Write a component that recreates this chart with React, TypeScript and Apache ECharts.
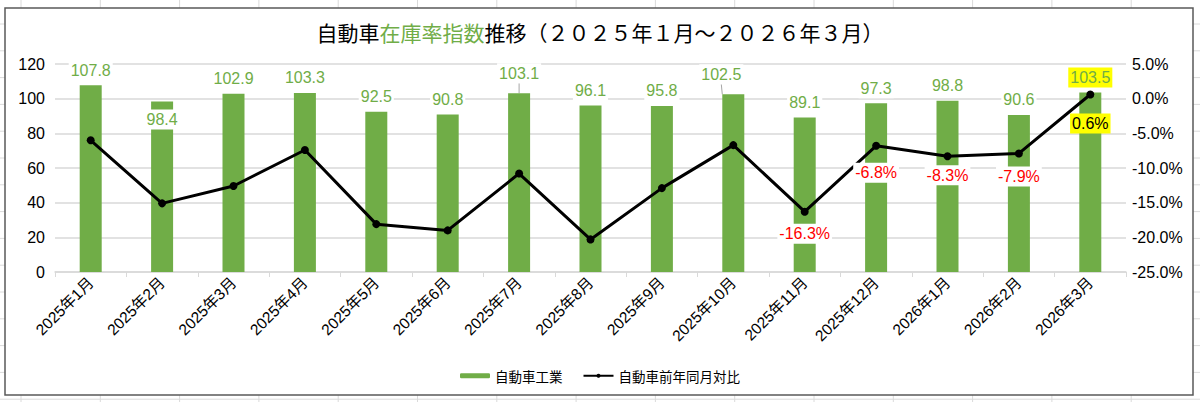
import React, { useEffect, useRef } from "react";
import * as echarts from "echarts";

const categories = [
  "2025年1月", "2025年2月", "2025年3月", "2025年4月", "2025年5月", "2025年6月",
  "2025年7月", "2025年8月", "2025年9月", "2025年10月", "2025年11月", "2025年12月",
  "2026年1月", "2026年2月", "2026年3月",
];
const industryIndex = [107.8, 98.4, 102.9, 103.3, 92.5, 90.8, 103.1, 96.1, 95.8, 102.5, 89.1, 97.3, 98.8, 90.6, 103.5];
const yoyChange = [-6.0, -15.1, -12.6, -7.4, -18.1, -19.0, -10.8, -20.3, -12.9, -6.7, -16.3, -6.8, -8.3, -7.9, 0.6];
const labeledYoy = [10, 11, 12, 13, 14];
const leftMin = 0;
const leftMax = 120;
const leftStep = 20;
const rightMin = -25;
const rightMax = 5;
const rightStep = 5;
const seriesNames = ["自動車工業", "自動車前年同月対比"];

const GREEN = "#70AD47";
const FONT = "'Liberation Sans', Arial, 'Noto Sans CJK JP', sans-serif";
const CJK = "'Noto Sans CJK JP', 'Liberation Sans', sans-serif";

export default function App() {
  const ref = useRef<HTMLDivElement>(null);
  useEffect(() => {
    if (!ref.current) return;
    const chart = echarts.init(ref.current, null, { renderer: "svg" });

    const cellLines: any[] = [];
    for (let k = 0; k < 15; k++) {
      const x = 21 + 79.3 * k;
      cellLines.push({ type: "line", z: -20, shape: { x1: x, y1: 0, x2: x, y2: 402 }, style: { stroke: "#DADADA", lineWidth: 1 } });
    }
    for (let k = 0; k < 15; k++) {
      const y = 24 + 26.8 * k;
      cellLines.push({ type: "line", z: -20, shape: { x1: 0, y1: y, x2: 1200, y2: y }, style: { stroke: "#DADADA", lineWidth: 1 } });
    }

    const barData = industryIndex.map((v, i) => {
      if (i === 1) {
        return { value: v, label: { position: "insideTop", distance: 8 } };
      }
      if (i === 6 || i === 9) {
        return { value: v, labelLine: { show: true, lineStyle: { color: "#A6A6A6", width: 1 } } };
      }
      if (i === 14) {
        return { value: v, label: { backgroundColor: "#FFFF00" } };
      }
      return { value: v };
    });

    const yoyDist: Record<number, number> = { 10: 8, 11: 13, 12: 5, 13: 9, 14: 15 };
    const lineData = yoyChange.map((v, i) => {
      if (labeledYoy.indexOf(i) < 0) return { value: v };
      const isPos = v >= 0;
      return {
        value: v,
        label: {
          show: true,
          position: "bottom",
          distance: yoyDist[i],
          color: isPos ? "#000" : "#FF0000",
          backgroundColor: isPos ? "#FFFF00" : "#FFFFFF",
        },
      };
    });

    chart.setOption({
      animation: false,
      backgroundColor: "#FFFFFF",
      textStyle: { fontFamily: FONT },
      graphic: [
        ...cellLines,
        {
          type: "rect",
          z: -10,
          shape: { x: 5, y: 8, width: 1188, height: 387 },
          style: { fill: "#FFFFFF", stroke: "#595959", lineWidth: 1.5 },
        },
      ],
      title: {
        text: "{a|自動車}{g|在庫率指数}{a|推移（２０２５年１月～２０２６年３月）}",
        left: "center",
        top: 16,
        textStyle: {
          fontWeight: "normal",
          rich: {
            a: { fontSize: 21, color: "#000", fontFamily: CJK, fontWeight: "normal" },
            g: { fontSize: 21, color: GREEN, fontFamily: CJK, fontWeight: "normal" },
          },
        },
      },
      legend: {
        left: "center",
        top: 364,
        itemGap: 20,
        itemWidth: 30,
        itemHeight: 5,
        textStyle: { fontSize: 13.5, color: "#000", fontFamily: CJK },
        data: seriesNames,
      },
      grid: { left: 55, right: 74, top: 64, bottom: 130 },
      xAxis: {
        type: "category",
        data: categories,
        axisLine: { lineStyle: { color: "#D9D9D9", width: 1.5 } },
        axisTick: { show: true, length: 5, lineStyle: { color: "#D9D9D9" } },
        axisLabel: { rotate: 45, fontSize: 15.5, color: "#000", margin: 8, interval: 0, fontFamily: FONT },
      },
      yAxis: [
        {
          type: "value",
          min: leftMin,
          max: leftMax,
          interval: leftStep,
          axisLine: { show: false },
          axisTick: { show: false },
          splitLine: { lineStyle: { color: "#D9D9D9", width: 1.5 } },
          axisLabel: { fontSize: 16, color: "#000", margin: 10, fontFamily: FONT },
        },
        {
          type: "value",
          min: rightMin,
          max: rightMax,
          interval: rightStep,
          axisLine: { show: false },
          axisTick: { show: false },
          splitLine: { show: false },
          axisLabel: {
            fontSize: 16,
            color: "#000",
            margin: 6,
            align: "left",
            fontFamily: FONT,
            formatter: (v: number) => v.toFixed(1) + "%",
          },
        },
      ],
      series: [
        {
          name: seriesNames[0],
          type: "bar",
          yAxisIndex: 0,
          barWidth: 22,
          itemStyle: { color: GREEN },
          data: barData,
          label: {
            show: true,
            position: "top",
            distance: 5,
            fontSize: 16,
            color: GREEN,
            backgroundColor: "#FFFFFF",
            padding: [2, 2],
            fontFamily: FONT,
          },
          labelLayout: (p: any) => {
            if (p.dataIndex === 6) return { dy: -5 };
            if (p.dataIndex === 9) return { dx: -12, dy: -5 };
            return {};
          },
          labelLine: { show: false, lineStyle: { color: "#A6A6A6", width: 1 } },
        },
        {
          name: seriesNames[1],
          type: "line",
          yAxisIndex: 1,
          data: lineData,
          symbol: "circle",
          symbolSize: 8,
          lineStyle: { color: "#000", width: 3 },
          itemStyle: { color: "#000" },
          label: {
            show: false,
            fontSize: 16,
            padding: [2, 2],
            fontFamily: FONT,
            formatter: (p: any) => Number(p.value).toFixed(1) + "%",
          },
          z: 3,
        },
      ],
    });
    return () => chart.dispose();
  }, []);
  return <div ref={ref} style={{ position: "fixed", left: 0, top: 0, width: 1200, height: 402 }} />;
}
